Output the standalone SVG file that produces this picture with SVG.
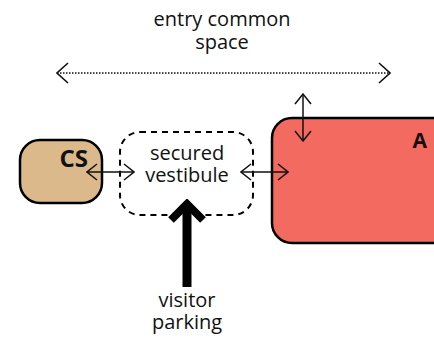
<svg xmlns="http://www.w3.org/2000/svg" width="434" height="340" viewBox="0 0 434 340">
<defs>
<style>
.t{font-family:"Open Sans","Liberation Sans",sans-serif;font-size:20px;fill:#111;text-anchor:middle}
.b{font-family:"Open Sans","Liberation Sans",sans-serif;font-weight:bold;fill:#111;text-anchor:end}
.c{stroke:#111;stroke-width:1.5;fill:none}
</style>
<marker id="ah" viewBox="0 0 12 18" refX="11" refY="9" markerWidth="12" markerHeight="18" markerUnits="userSpaceOnUse" orient="auto-start-reverse">
<path d="M1,1 L11,9 L1,17" fill="none" stroke="#111" stroke-width="1.5"/>
</marker>
<marker id="ahd" viewBox="0 0 13 22" refX="12" refY="11" markerWidth="13" markerHeight="22" markerUnits="userSpaceOnUse" orient="auto-start-reverse">
<path d="M1,1 L12,11 L1,21" fill="none" stroke="#111" stroke-width="1.6"/>
</marker>
<marker id="big" viewBox="0 0 38 24" refX="19" refY="5" markerWidth="38" markerHeight="24" markerUnits="userSpaceOnUse" orient="0">
<path d="M3,21 L19,5 L35,21" fill="none" stroke="#000" stroke-width="8"/>
</marker>
</defs>
<rect width="434" height="340" fill="#fff"/>
<g id="label-entry">
<text class="t" x="222" y="26">entry common</text>
<text class="t" x="222" y="49">space</text>
</g>
<g id="CS">
<rect x="20" y="140" width="82" height="63" rx="20" fill="#dcb98a" stroke="#000" stroke-width="2.5"/>
<text class="b" x="88" y="167" font-size="24">CS</text>
</g>
<g id="vestibule">
<rect x="120" y="132" width="133" height="83" rx="20" fill="none" stroke="#000" stroke-width="2" stroke-dasharray="6 5"/>
<text class="t" x="187" y="160">secured</text>
<text class="t" x="187" y="182">vestibule</text>
</g>
<g id="A">
<rect x="272" y="118" width="180" height="125" rx="20" fill="#f26a60" stroke="#000" stroke-width="2.5"/>
<text class="b" x="427" y="148" font-size="21">A</text>
</g>
<g id="label-parking">
<text class="t" x="187" y="307">visitor</text>
<text class="t" x="187" y="329">parking</text>
</g>
<g id="connectors">
<line class="c" x1="57" y1="73" x2="390" y2="73" stroke-dasharray="1.5 1.5" marker-start="url(#ahd)" marker-end="url(#ahd)"/>
<line class="c" x1="87" y1="172" x2="134" y2="172" marker-start="url(#ah)" marker-end="url(#ah)"/>
<line class="c" x1="241" y1="172" x2="288" y2="172" marker-start="url(#ah)" marker-end="url(#ah)"/>
<line class="c" x1="303" y1="94" x2="303" y2="141" marker-start="url(#ah)" marker-end="url(#ah)"/>
<line x1="187" y1="287" x2="187" y2="204" stroke="#000" stroke-width="9" marker-end="url(#big)"/>
</g>
</svg>
